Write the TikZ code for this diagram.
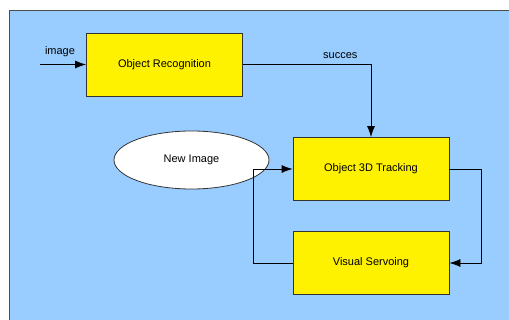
\documentclass[tikz,border=0pt]{standalone}
\usepackage{fontspec}
\setmainfont{Liberation Sans}
\usetikzlibrary{arrows.meta,shapes.geometric}
\definecolor{skyblue}{HTML}{99CCFF}
\begin{document}
\begin{tikzpicture}[x=1pt,y=-1pt,line width=0.8pt,
  blockbox/.style={draw=black!80,fill=yellow,minimum width=156pt,minimum height=63pt,inner sep=0pt,font=\fontsize{11}{13}\selectfont},
  flow/.style={-{Latex[length=11pt,width=8pt]}},
  lbl/.style={inner sep=0pt,font=\fontsize{11}{13}\selectfont}]
\useasboundingbox (0,0) rectangle (509,320);
\draw[black!70,fill=skyblue] (9,10) rectangle (520,330);
\node[blockbox] (recog) at (164.5,64.5) {Object Recognition};
\node[blockbox] (track) at (371,169) {Object 3D Tracking};
\node[blockbox] (servo) at (371,263) {Visual Servoing};
\node[ellipse,draw=black!80,fill=white,minimum width=155pt,minimum height=58pt,inner sep=0pt,font=\fontsize{11}{13}\selectfont] (newimg) at (191.5,160) {New Image};
\coordinate (input) at (40,64.5);
\draw[flow] (input) -- (recog);
\node[lbl] (imglbl) at (60,52) {image};
\draw[flow] (recog) -| node[lbl,pos=0.38,above=5pt] (succlbl) {succes} (track);
\draw[flow] (track.east) -- ++(32,0) |- (servo.east);
\draw[flow] (servo.west) -- ++(-39,0) |- (track.west);
\end{tikzpicture}
\end{document}
